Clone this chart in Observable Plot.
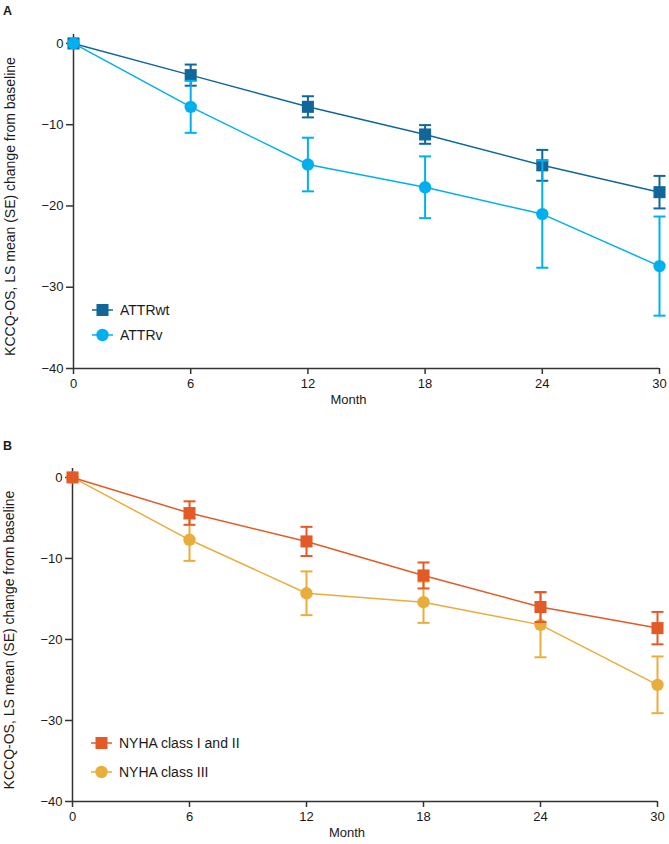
<!DOCTYPE html>
<html><head><meta charset="utf-8">
<script src="https://cdn.jsdelivr.net/npm/d3@7"></script>
<script src="https://cdn.jsdelivr.net/npm/@observablehq/plot@0.6"></script>
<style>
body{margin:0;background:#fff;font-family:"Liberation Sans",Arial,sans-serif;color:#1a1a1a;}
.panel{position:relative;width:669px;}
.tag{position:absolute;left:3px;font-weight:bold;font-size:12.5px;line-height:1;z-index:2;}
.row{position:absolute;display:flex;align-items:center;white-space:nowrap;font-size:14px;height:20px;}
.row svg{margin-right:7px;}
</style></head><body>
<div id="A" class="panel"></div><div id="B" class="panel"></div>
<script>
const months = [0, 6, 12, 18, 24, 30];
const yTicks = [0, -10, -20, -30, -40];
const xTicks = [0, 6, 12, 18, 24, 30];

const attrwtMean = [0, -3.9, -7.8, -11.2, -15.0, -18.3];
const attrwtSE   = [0, 1.3, 1.3, 1.15, 1.9, 2.0];
const attrvMean  = [0, -7.8, -14.9, -17.7, -21.0, -27.4];
const attrvSE    = [0, 3.2, 3.3, 3.8, 6.6, 6.1];

const nyha12Mean = [0, -4.4, -7.9, -12.1, -16.0, -18.6];
const nyha12SE   = [0, 1.45, 1.8, 1.6, 1.85, 2.0];
const nyha3Mean  = [0, -7.7, -14.3, -15.4, -18.2, -25.6];
const nyha3SE    = [0, 2.6, 2.7, 2.55, 4.0, 3.5];

const names = ["ATTRwt", "ATTRv", "NYHA class I and II", "NYHA class III"];
const colors = ["#11679a", "#00b0ee", "#e35a27", "#e9ad3c"];

const capSymbol = {draw(ctx, size){ const w = Math.sqrt(size/Math.PI); ctx.moveTo(-w,0); ctx.lineTo(w,0);} };

function rows(mean, se){ return months.map((m,i)=>({month:m, mean:mean[i], se:se[i]})); }

function seriesMarks(data, color, shape){
  const eb = data.filter(d=>d.se>0);
  return [
    Plot.ruleX(eb, {x:"month", y1:d=>d.mean-d.se, y2:d=>d.mean+d.se, stroke:color, strokeWidth:2}),
    Plot.dot(eb, {x:"month", y:d=>d.mean-d.se, symbol:capSymbol, r:6, stroke:color, strokeWidth:2, fill:"none"}),
    Plot.dot(eb, {x:"month", y:d=>d.mean+d.se, symbol:capSymbol, r:6, stroke:color, strokeWidth:2, fill:"none"}),
    Plot.line(data, {x:"month", y:"mean", stroke:color, strokeWidth:1.5}),
    Plot.dot(data, {x:"month", y:"mean", symbol:shape, r: shape==="square"?6.8:6.2, fill:color, stroke:"none"})
  ];
}

function panel(el, tag, tagTop, height, mt, mb, ml, mr, series, legendRows){
  const marks = [
    Plot.ruleX([0], {stroke:"#333", strokeWidth:1.5}),
    Plot.ruleY([-40], {stroke:"#333", strokeWidth:1.5}),
    Plot.axisY({ticks:yTicks, tickSize:7, tickPadding:3, fontSize:13, label:null, stroke:"#333", strokeWidth:1.5}),
    Plot.axisX({ticks:xTicks, tickSize:6, tickPadding:4, fontSize:13, label:null, stroke:"#333", strokeWidth:1.5}),
    Plot.text(["KCCQ-OS, LS mean (SE) change from baseline"], {frameAnchor:"left", textAnchor:"middle", lineAnchor:"middle", rotate:-90, dx:-63, dy:5, fontSize:14, fill:"#1a1a1a"}),
    Plot.text(["Month"], {frameAnchor:"bottom", textAnchor:"middle", dx:-18, dy:35, fontSize:13, fill:"#1a1a1a"})
  ];
  series.forEach(s => marks.push(...seriesMarks(s.data, s.color, s.shape)));
  const chart = Plot.plot({
    width:669, height, marginTop:mt, marginBottom:mb, marginLeft:ml, marginRight:mr,
    style:{fontFamily:"'Liberation Sans', Arial, sans-serif", color:"#1a1a1a", background:"#fff"},
    x:{domain:[0,30]},
    y:{domain:[-40,1.1]},
    marks
  });
  const root = document.getElementById(el);
  root.appendChild(chart);
  const t = document.createElement("div"); t.className="tag"; t.style.top=tagTop+"px"; t.textContent=tag; root.appendChild(t);
  legendRows.forEach(r=>{
    const d = document.createElement("div"); d.className="row"; d.style.left=r.left+"px"; d.style.top=(r.cy-10)+"px";
    const marker = r.shape==="square"
      ? `<rect x="4.5" y="4" width="12" height="12" fill="${r.color}"/>`
      : `<circle cx="10.5" cy="10" r="6.2" fill="${r.color}"/>`;
    d.innerHTML = `<svg width="21" height="20"><line x1="0" x2="21" y1="10" y2="10" stroke="${r.color}" stroke-width="1.5"/>${marker}</svg><span>${r.name}</span>`;
    root.appendChild(d);
  });
}

panel("A", "A", 5, 420, 34, 52, 73, 10,
  [{data:rows(attrwtMean, attrwtSE), color:colors[0], shape:"square"},
   {data:rows(attrvMean, attrvSE), color:colors[1], shape:"circle"}],
  [{name:names[0], color:colors[0], shape:"square", cy:310, left:92},
   {name:names[1], color:colors[1], shape:"circle", cy:335, left:92}]);

panel("B", "B", 20, 424, 48, 43, 72, 12,
  [{data:rows(nyha3Mean, nyha3SE), color:colors[3], shape:"circle"},
   {data:rows(nyha12Mean, nyha12SE), color:colors[2], shape:"square"}],
  [{name:names[2], color:colors[2], shape:"square", cy:323, left:91},
   {name:names[3], color:colors[3], shape:"circle", cy:351.5, left:91}]);
</script>
</body></html>
